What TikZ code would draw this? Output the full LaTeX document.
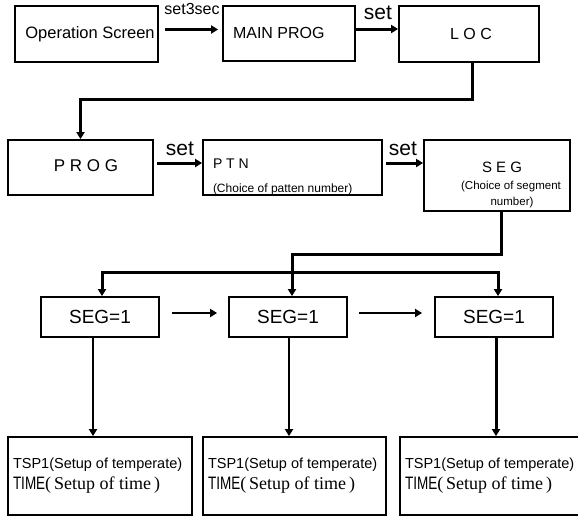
\documentclass[tikz,border=0pt]{standalone}
\usepackage{fontspec}
\usepackage{graphicx}
\setmainfont{Liberation Sans}
\newfontfamily\tnrfont{Liberation Serif}
\usetikzlibrary{arrows.meta}
\newcommand{\fs}[1]{\fontsize{#1}{#1}\selectfont}
\tikzset{
  boxst/.style={draw, rectangle, line width=1.8pt, inner sep=0pt},
  txt/.style={inner sep=0pt, outer sep=0pt},
  arr/.style={line width=2.2pt, -{Triangle[length=7pt,width=8pt]}},
  bigarr/.style={line width=3pt, -{Triangle[length=7pt,width=8pt]}},
}
\begin{document}
\begin{tikzpicture}[x=1pt,y=-1pt]
\fill[white] (0,0) rectangle (578,517);
\useasboundingbox (0,0) rectangle (578,517);
\clip (0,0) rectangle (578,517);

% top row
\node[boxst, minimum width=143pt, minimum height=56pt] (op) at (86.5,34) {};
\node[txt, font=\fs{16.5}] (optext) at (90,34) {Operation Screen};
\node[boxst, minimum width=132pt, minimum height=55pt] (main) at (289,33.5) {};
\node[txt, font=\fs{16}, anchor=west] (maintext) at (233,33) {MAIN PROG};
\node[boxst, minimum width=140pt, minimum height=56pt] (loc) at (469,34) {};
\node[txt, font=\fs{16}] (loctext) at (471,34) {L O C};

\draw[arr, shorten <=6pt, shorten >=4pt] ([yshift=4.5pt]op.east) -- ([yshift=4.5pt]op.east -| main.west);
\node[txt, font=\fs{16}] (lbl1) at (192,9) {set3sec};
\draw[bigarr] ([yshift=4.5pt]main.east) -- ([yshift=4.5pt]main.east -| loc.west);
\node[txt, font=\fs{21}] (lbl2) at (378,13) {set};

% second row
\node[boxst, minimum width=145pt, minimum height=55pt] (prog) at (80.5,167.5) {};
\node[txt, font=\fs{17}] (progtext) at (86,166) {P R O G};
\node[boxst, minimum width=179pt, minimum height=55pt] (ptn) at (292.5,167.5) {};
\node[txt, font=\fs{14}, anchor=west] (ptntext) at (213,164) {P T N};
\node[txt, font=\fs{12}, anchor=west] (ptnsub) at (213,189) {(Choice of patten number)};
\node[boxst, minimum width=146pt, minimum height=71pt] (seg) at (497,175.5) {};
\node[txt, font=\fs{15}] (segtext) at (502,167) {S E G};
\node[txt, font=\fs{11.5}] (segsub1) at (511,187) {(Choice of segment};
\node[txt, font=\fs{11.5}] (segsub2) at (512,203) {number)};

\draw[bigarr] ([xshift=3pt]loc.south) -- ++(0,37) -| (prog.north);
\draw[bigarr, shorten <=3pt] ([yshift=4.5pt]prog.east) -- ([yshift=4.5pt]ptn.west);
\node[txt, font=\fs{21}] (lbl3) at (180,149) {set};
\draw[bigarr, shorten <=3pt] ([yshift=4.5pt]ptn.east) -- ([yshift=4.5pt]ptn.east -| seg.west);
\node[txt, font=\fs{21}] (lbl4) at (403,149) {set};

% SEG=1 row
\node[boxst, minimum width=118pt, minimum height=40pt, font=\fs{19}] (sa) at (100,317) {SEG=1};
\node[boxst, minimum width=118pt, minimum height=40pt, font=\fs{19}] (sb) at (288,317) {SEG=1};
\node[boxst, minimum width=118pt, minimum height=40pt, font=\fs{19}] (sc) at (494,317) {SEG=1};

\coordinate (busR) at (498,272);
\draw[bigarr] ([xshift=4pt]seg.south) -- ++(0,43) -| ([xshift=4pt]sb.north);
\draw[line width=3pt, {Triangle[length=7pt,width=8pt]}-{Triangle[length=7pt,width=8pt]}]
  ([xshift=2pt]sa.north) |- (busR) -- ([xshift=4pt]sc.north);

\draw[line width=2.5pt, -{Triangle[length=7pt,width=8pt]}, shorten <=12pt, shorten >=11pt] ([yshift=4pt]sa.east) -- ([yshift=4pt]sb.west);
\draw[line width=2.5pt, -{Triangle[length=7pt,width=8pt]}, shorten <=11pt, shorten >=12pt] ([yshift=4pt]sb.east) -- ([yshift=4pt]sc.west);

% bottom row
\node[boxst, minimum width=184pt, minimum height=78pt] (ta) at (100,476) {};
\node[boxst, minimum width=183pt, minimum height=78pt] (tb) at (294.5,476) {};
\node[boxst, minimum width=200pt, minimum height=78pt] (tc) at (500,476) {};

\foreach \b/\x in {ta/13, tb/208, tc/405}{
  \node[txt, font=\fs{14.5}, anchor=west] (\b l1) at (\x,465) {TSP1(Setup of temperate)};
  \node[txt, font=\fs{18}, anchor=west] (\b l2) at (\x,485) {\scalebox{0.75}[1]{TIME}\tnrfont(\,Setup of time\,)};
}

\draw[arr, line width=2pt] ([xshift=-7pt]sa.south) -- ([xshift=-7pt]sa.south |- ta.north);
\draw[arr, line width=2pt] ([xshift=1pt]sb.south) -- ([xshift=1pt]sb.south |- tb.north);
\draw[arr, line width=3pt] ([xshift=2pt]sc.south) -- ([xshift=2pt]sc.south |- tc.north);
\end{tikzpicture}
\end{document}
